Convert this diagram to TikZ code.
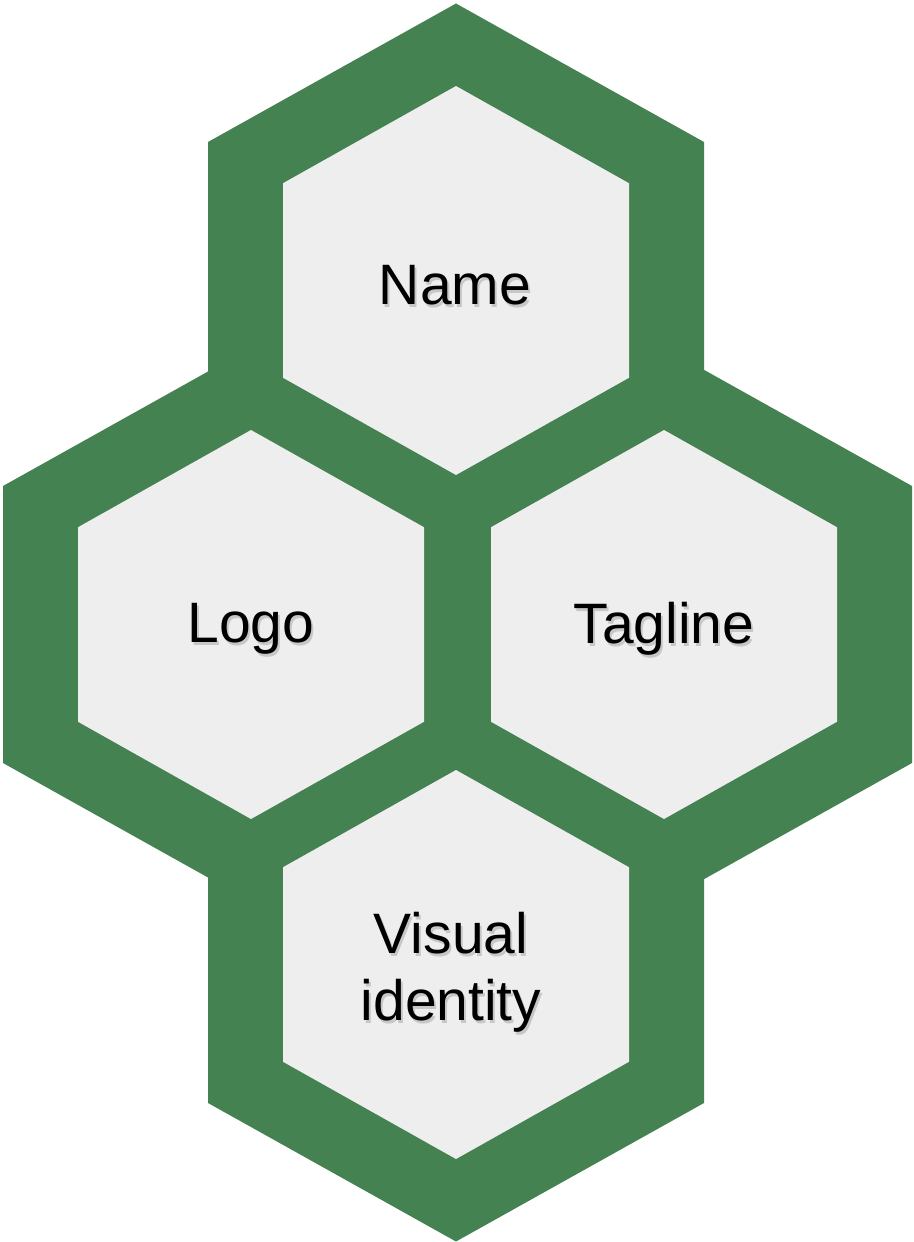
\documentclass[tikz,border=0pt]{standalone}
\usepackage{fontspec}
\setmainfont{Liberation Sans}
\definecolor{hexgreen}{HTML}{458251}
\definecolor{hexgrey}{HTML}{EEEEEE}
\begin{document}
\begin{tikzpicture}[x=1pt,y=-1pt,
  outerhex/.style={fill=hexgreen,draw=none},
  innerhex/.style={fill=hexgrey,draw=none},
  lbl/.style={text=black,font=\fontsize{57}{67}\selectfont,align=center,inner sep=0pt},
  lblshadow/.style={text=black!40,text opacity=0.45,font=\fontsize{57}{67}\selectfont,align=center,inner sep=0pt}]
\useasboundingbox[fill=white] (0,0) rectangle (913,1242);
% outer green hexagons
\foreach \cx/\cy in {456/280.5, 251/624.5, 664/624.5, 456/964.5}{
  \fill[outerhex] (\cx,\cy-277) -- (\cx+248,\cy-138.5) -- (\cx+248,\cy+138.5)
    -- (\cx,\cy+277) -- (\cx-248,\cy+138.5) -- (\cx-248,\cy-138.5) -- cycle;
}
% inner grey hexagons
\foreach \cx/\cy in {456/280.5, 251/624.5, 664/624.5, 456/964.5}{
  \fill[innerhex] (\cx,\cy-194.5) -- (\cx+173,\cy-97.25) -- (\cx+173,\cy+97.25)
    -- (\cx,\cy+194.5) -- (\cx-173,\cy+97.25) -- (\cx-173,\cy-97.25) -- cycle;
}
% text shadows
\node[lblshadow] at (455+2,285+3) {Name};
\node[lblshadow] at (251+2,629+3) {Logo};
\node[lblshadow] at (664+2,629+3) {Tagline};
\node[lblshadow] at (451+2,972+3) {Visual\\identity};
% labels
\node[lbl] (name) at (455,285) {Name};
\node[lbl] (logo) at (251,629) {Logo};
\node[lbl] (tagline) at (664,629) {Tagline};
\node[lbl] (visual) at (451,972) {Visual\\identity};
\end{tikzpicture}
\end{document}
